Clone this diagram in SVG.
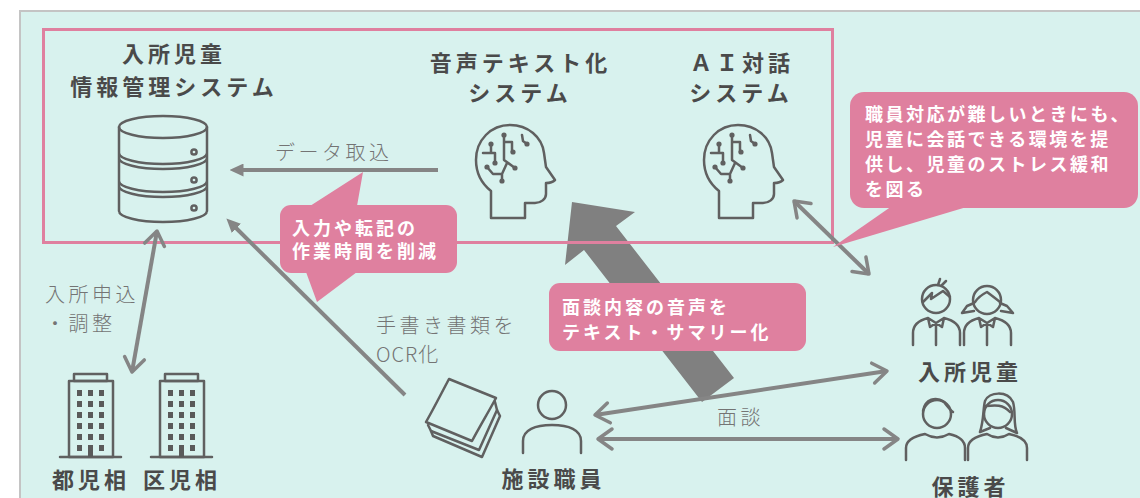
<svg xmlns="http://www.w3.org/2000/svg" xmlns:xlink="http://www.w3.org/1999/xlink" width="1140" height="498" viewBox="0 0 1140 498">
  <style>
    .ttl { font-family: "Noto Sans CJK JP", "Noto Sans", sans-serif; font-weight: 700; font-size: 22px; fill: #4a4a4a; letter-spacing: 4px; }
    .lbl { font-family: "Noto Sans CJK JP", "Noto Sans", sans-serif; font-weight: 300; font-size: 20px; fill: #747474; letter-spacing: 3.5px; }
    .call { font-family: "Noto Sans CJK JP", "Noto Sans", sans-serif; font-weight: 700; font-size: 18px; fill: #ffffff; letter-spacing: 3px; }
    .icon { fill: none; stroke: #606060; stroke-width: 2.5; stroke-linejoin: round; stroke-linecap: round; }
    .dot { fill: #606060; }
    .win { fill: #5a5a5a; }
    .bubble { fill: #DF809F; }
    .conn { fill: none; stroke: #858585; stroke-width: 4; }
  </style>
  <defs>
    <!-- open chevron arrowhead, used at both ends of two-way links -->
    <marker id="chev" viewBox="-3 -3 20 26" refX="14" refY="10" markerWidth="20" markerHeight="26" markerUnits="userSpaceOnUse" orient="auto-start-reverse">
      <path d="M0,0 L14,10 L0,20" fill="none" stroke="#858585" stroke-width="3.5" stroke-linecap="round" stroke-linejoin="round"/>
    </marker>
    <!-- solid triangle arrowhead; placed beyond the end of the line -->
    <marker id="tri" viewBox="0 0 14 13" refX="0.5" refY="6.5" markerWidth="14" markerHeight="13" markerUnits="userSpaceOnUse" orient="auto">
      <path d="M0,0 L14,6.5 L0,13 Z" fill="#858585"/>
    </marker>
    <!-- head profile with circuit lines -->
    <g id="brain">
      <path class="icon" d="M31,108 V81 C21,73 16,62 16,50 C16,30 31,15 50,15 C68,15 82,27 84,43 L86,57 L95,70 C93,72 89,73 86,73 L86,84 C86,89 81,93 75,93 L65,93 L65,108 Z"/>
      <path class="icon" stroke-width="2" d="M44,25 V50 L55,58 M44,32 H52 V42 M31,34 V43 M23,43 H35 V53 M62,25 L63,31 L67,34 M27,57 L33,64 H42 V71 M42,64 L47,53"/>
      <circle class="dot" cx="44" cy="25" r="2.6"/>
      <circle class="dot" cx="31" cy="34" r="2.6"/>
      <circle class="dot" cx="53" cy="42" r="2.6"/>
      <circle class="dot" cx="67" cy="34" r="2.6"/>
      <circle class="dot" cx="35" cy="53" r="2.6"/>
      <circle class="dot" cx="27" cy="57" r="2.6"/>
      <circle class="dot" cx="55" cy="58" r="2.6"/>
      <circle class="dot" cx="42" cy="71" r="2.6"/>
    </g>
    <!-- office building -->
    <g id="building">
      <rect class="icon" x="74" y="374" width="33" height="7"/>
      <rect class="icon" x="69" y="381" width="44" height="76"/>
      <line class="icon" x1="60" y1="457" x2="121" y2="457"/>
      <g class="win">
        <rect x="77" y="390" width="5" height="6"/><rect x="88" y="390" width="5" height="6"/><rect x="99" y="390" width="5" height="6"/>
        <rect x="77" y="401" width="5" height="6"/><rect x="88" y="401" width="5" height="6"/><rect x="99" y="401" width="5" height="6"/>
        <rect x="77" y="412" width="5" height="6"/><rect x="88" y="412" width="5" height="6"/><rect x="99" y="412" width="5" height="6"/>
        <rect x="77" y="423" width="5" height="6"/><rect x="88" y="423" width="5" height="6"/><rect x="99" y="423" width="5" height="6"/>
        <rect x="77" y="434" width="5" height="6"/><rect x="88" y="434" width="5" height="6"/><rect x="99" y="434" width="5" height="6"/>
        <rect x="77" y="445" width="5" height="6"/><rect x="88" y="445" width="5" height="12"/><rect x="99" y="445" width="5" height="6"/>
      </g>
    </g>
  </defs>

  <!-- canvas -->
  <rect x="20" y="11" width="1120" height="487" fill="#D8F2EE"/>
  <path d="M20,498 V11 H1140" fill="none" stroke="#c4c4c4" stroke-width="2"/>

  <!-- wide arrow: interview audio to speech-to-text system -->
  <path id="bigArrow" fill="#808080" d="M702,402 L734,378 L616,226 L635,212 L572,202 L565,265 L584,250 Z"/>

  <!-- system boundary -->
  <rect x="43.5" y="29.5" width="789" height="213" fill="none" stroke="#DF809F" stroke-width="3"/>

  <!-- connectors -->
  <g id="connectors">
    <line class="conn" x1="438" y1="170" x2="243" y2="170" marker-end="url(#tri)"/>
    <line class="conn" x1="405" y1="395" x2="236" y2="228" marker-end="url(#tri)"/>
    <line class="conn" x1="157" y1="231" x2="132" y2="372" marker-start="url(#chev)" marker-end="url(#chev)"/>
    <line class="conn" x1="595" y1="415" x2="887" y2="371" marker-start="url(#chev)" marker-end="url(#chev)"/>
    <line class="conn" x1="598" y1="439" x2="898" y2="439" marker-start="url(#chev)" marker-end="url(#chev)"/>
    <line class="conn" x1="794" y1="201" x2="869" y2="274" marker-start="url(#chev)" marker-end="url(#chev)"/>
  </g>

  <!-- connector labels -->
  <text class="lbl" x="275" y="160">データ取込</text>
  <text class="lbl" x="45" y="302">入所申込</text>
  <text class="lbl" x="45" y="331">・調整</text>
  <text class="lbl" x="376" y="333">手書き書類を</text>
  <text class="lbl" x="376" y="362" style="letter-spacing:1px">OCR化</text>
  <text class="lbl" x="717" y="425">面談</text>

  <!-- resident management system -->
  <g id="node-records">
    <text class="ttl" x="174" y="62" text-anchor="middle">入所児童</text>
    <text class="ttl" x="174" y="95" text-anchor="middle">情報管理システム</text>
    <ellipse class="icon" cx="163" cy="127" rx="44" ry="11"/>
    <path class="icon" d="M119,127 V211 M207,127 V211 M119,153 A44,11 0 0 0 207,153 M119,158 A44,11 0 0 0 207,158 M119,181 A44,11 0 0 0 207,181 M119,186 A44,11 0 0 0 207,186 M119,211 A44,11 0 0 0 207,211"/>
    <circle class="icon" cx="194" cy="152" r="2.6"/>
    <circle class="icon" cx="194" cy="180" r="2.6"/>
    <circle class="icon" cx="194" cy="208" r="2.6"/>
  </g>

  <!-- speech-to-text system -->
  <g id="node-stt">
    <text class="ttl" x="520.5" y="71" text-anchor="middle">音声テキスト化</text>
    <text class="ttl" x="520" y="101" text-anchor="middle">システム</text>
    <use xlink:href="#brain" transform="translate(460,110)"/>
  </g>

  <!-- AI dialogue system -->
  <g id="node-ai">
    <text class="ttl" x="742" y="71" text-anchor="middle">ＡＩ対話</text>
    <text class="ttl" x="741" y="101" text-anchor="middle">システム</text>
    <use xlink:href="#brain" transform="translate(688,110)"/>
  </g>

  <!-- child guidance centres -->
  <g id="node-centres">
    <use xlink:href="#building"/>
    <use xlink:href="#building" transform="translate(91,0)"/>
    <text class="ttl" x="52" y="488">都児相</text>
    <text class="ttl" x="143" y="488">区児相</text>
  </g>

  <!-- handwritten documents -->
  <g id="node-docs">
    <path class="icon" d="M449,379 L496,398 C489,411 480,426 472,441 L426,422 C434,408 441,394 449,379 Z"/>
    <path class="icon" d="M428,425 L431,431 L479,450 L497,410 L495,402"/>
    <path class="icon" d="M431,431 L433,436 L482,457 L500,416 L497,410"/>
  </g>

  <!-- facility staff -->
  <g id="node-staff">
    <circle class="icon" cx="552" cy="405" r="14"/>
    <path class="icon" d="M523,453 V441 C523,430 535,425 552,425 C569,425 581,430 581,441 V453"/>
    <text class="ttl" x="553.5" y="487" text-anchor="middle">施設職員</text>
  </g>

  <!-- resident children -->
  <g id="node-children">
    <circle class="icon" cx="936" cy="299" r="14"/>
    <path class="icon" d="M923,302 L932,293 L931,299 L943,291 L950,297 M938,285 L940,279 M942,285 L946,281"/>
    <path class="icon" d="M913,345 V333 C913,324 920,320 928,318 L936,323 L944,318 C952,320 960,324 960,333 V345 M928,318 L930,327 L936,323 L942,327 L944,318 M936,323 V345"/>
    <circle class="icon" cx="987" cy="300" r="14"/>
    <path class="icon" d="M975,302 C979,296 983,294 987,292 C991,295 995,298 1000,302 M974,303 L967,306 L962,313 L974,311 M1000,303 L1007,306 L1013,313 L1001,311"/>
    <path class="icon" d="M964,345 V333 C964,324 971,320 979,318 L987,323 L995,318 C1003,320 1011,324 1011,333 V345 M979,318 L981,327 L987,323 L993,327 L995,318 M987,323 V345"/>
    <text class="ttl" x="970" y="380" text-anchor="middle">入所児童</text>
  </g>

  <!-- guardians -->
  <g id="node-guardians">
    <circle class="icon" cx="937" cy="414" r="14"/>
    <path class="icon" d="M923,411 C925,399 936,396 944,402 C947,406 950,410 953,412"/>
    <path class="icon" d="M906,460 V448 C906,440 915,436 925,434 Q937,441 949,434 C958,436 965,440 965,448 V460"/>
    <circle class="icon" cx="998" cy="414" r="14"/>
    <path class="icon" d="M980,432 C984,420 983,408 985,401 C989,392 1007,390 1013,402 C1016,412 1013,424 1017,433 L1006,428 M980,432 L990,428 M985,406 C995,405 1003,404 1010,412"/>
    <path class="icon" d="M968,460 V448 C968,440 977,436 987,434 Q998,441 1009,434 C1019,436 1027,440 1027,448 V460"/>
    <text class="ttl" x="970.5" y="495" text-anchor="middle">保護者</text>
  </g>

  <!-- callouts -->
  <g id="callout-time">
    <path class="bubble" d="M310,206 L363,172 L357,206 Z M306,272 L317,302 L357,272 Z"/>
    <rect class="bubble" x="280" y="205" width="177" height="68" rx="11"/>
    <text class="call" x="292" y="235">入力や転記の</text>
    <text class="call" x="292" y="258">作業時間を削減</text>
  </g>
  <g id="callout-summary">
    <rect class="bubble" x="549" y="283" width="257" height="68" rx="11"/>
    <text class="call" x="562" y="314">面談内容の音声を</text>
    <text class="call" x="562" y="339">テキスト・サマリー化</text>
  </g>
  <g id="callout-ai">
    <path class="bubble" d="M892,206 L833,247 L970,206 Z"/>
    <rect class="bubble" x="850" y="92" width="288" height="116" rx="14"/>
    <text class="call" x="865" y="121" style="letter-spacing:2.5px">職員対応が難しいときにも、</text>
    <text class="call" x="865" y="146" style="letter-spacing:2.5px">児童に会話できる環境を提</text>
    <text class="call" x="865" y="171" style="letter-spacing:2.5px">供し、児童のストレス緩和</text>
    <text class="call" x="865" y="196" style="letter-spacing:2.5px">を図る</text>
  </g>
</svg>
